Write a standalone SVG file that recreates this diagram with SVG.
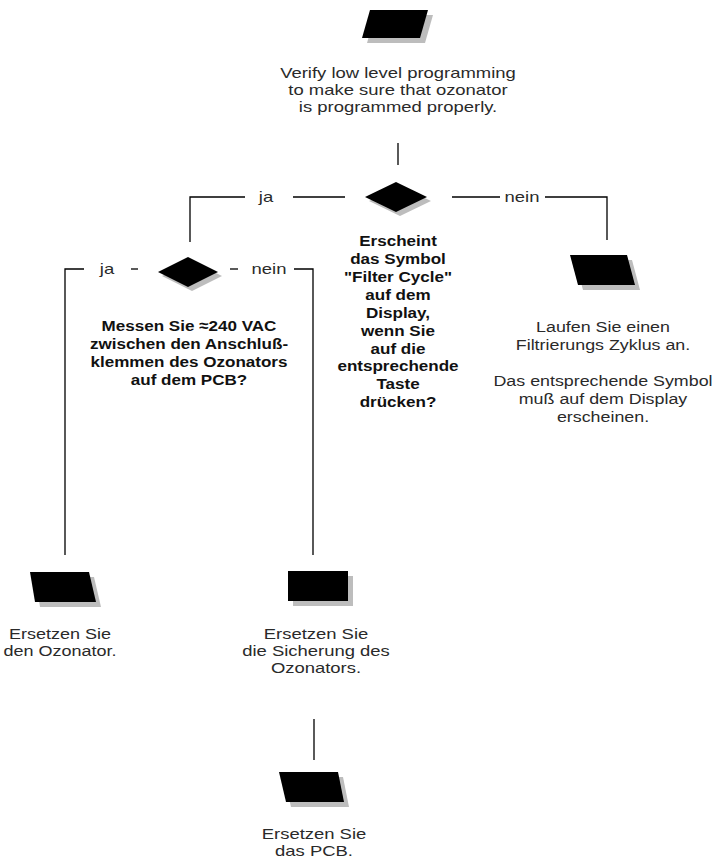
<svg xmlns="http://www.w3.org/2000/svg" width="725" height="865" viewBox="0 0 725 865">
<style>
.t{font-family:"Liberation Sans",Arial,sans-serif;font-size:15px;fill:#2a2a2a;text-anchor:middle}
.q{font-family:"Liberation Sans",Arial,sans-serif;font-size:15.5px;font-weight:bold;fill:#111;text-anchor:middle}
.c{fill:none;stroke:#000;stroke-width:1.3}
.sh{fill:#bdbdbd}
.fg{fill:#000}
</style>
<rect width="725" height="865" fill="#fff"/>
<g id="connectors">
<path class="c" d="M398 143V165"/>
<path class="c" d="M345 197H293"/>
<path class="c" d="M245 197H190V242"/>
<path class="c" d="M452 197H500"/>
<path class="c" d="M545 197H607V240"/>
<path class="c" d="M138 269H131"/>
<path class="c" d="M84 269H65V555"/>
<path class="c" d="M230 269H238"/>
<path class="c" d="M294 269H313V555"/>
<path class="c" d="M314 719V760"/>
<text class="t" transform="translate(266,0) scale(1.23,1)" x="0" y="202">ja</text>
<text class="t" transform="translate(522,0) scale(1.23,1)" x="0" y="202">nein</text>
<text class="t" transform="translate(107,0) scale(1.23,1)" x="0" y="274">ja</text>
<text class="t" transform="translate(269,0) scale(1.23,1)" x="0" y="274">nein</text>
</g>
<g id="start">
<polygon class="sh" points="375,15 433,15 425,43 367,43"/>
<polygon class="fg" points="370,10 428,10 420,38 362,38"/>
<g transform="translate(398,0) scale(1.23,1)">
<text class="t" x="0" y="78">Verify low level programming</text>
<text class="t" x="0" y="95">to make sure that ozonator</text>
<text class="t" x="0" y="112">is programmed properly.</text>
</g>
</g>
<g id="decision1">
<polygon class="sh" points="400,186 431,201 400,216 369,201"/>
<polygon class="fg" points="396,182 427,197 396,212 365,197"/>
<g transform="translate(398,0) scale(1.1,1)">
<text class="q" x="0" y="246">Erscheint</text>
<text class="q" x="0" y="264">das Symbol</text>
<text class="q" x="0" y="282">"Filter Cycle"</text>
<text class="q" x="0" y="300">auf dem</text>
<text class="q" x="0" y="318">Display,</text>
<text class="q" x="0" y="336">wenn Sie</text>
<text class="q" x="0" y="354">auf die</text>
<text class="q" x="0" y="371">entsprechende</text>
<text class="q" x="0" y="389">Taste</text>
<text class="q" x="0" y="407">drücken?</text>
</g>
</g>
<g id="filter">
<polygon class="sh" points="575,260 632,260 640,290 583,290"/>
<polygon class="fg" points="570,255 627,255 635,285 578,285"/>
<g transform="translate(603,0) scale(1.19,1)">
<text class="t" x="0" y="332">Laufen Sie einen</text>
<text class="t" x="0" y="350">Filtrierungs Zyklus an.</text>
<text class="t" x="0" y="386">Das entsprechende Symbol</text>
<text class="t" x="0" y="404">muß auf dem Display</text>
<text class="t" x="0" y="422">erscheinen.</text>
</g>
</g>
<g id="decision2">
<polygon class="sh" points="192,261 222,276 192,291 162,276"/>
<polygon class="fg" points="188,257 218,272 188,287 158,272"/>
<g transform="translate(189,0) scale(1.1,1)">
<text class="q" x="0" y="331">Messen Sie ≈240 VAC</text>
<text class="q" x="0" y="349">zwischen den Anschluß-</text>
<text class="q" x="0" y="367">klemmen des Ozonators</text>
<text class="q" x="0" y="385">auf dem PCB?</text>
</g>
</g>
<g id="ozonator">
<polygon class="sh" points="35,577 94,577 101,607 40,607"/>
<polygon class="fg" points="30,572 89,572 96,602 35,602"/>
<g transform="translate(60,0) scale(1.2,1)">
<text class="t" x="0" y="639">Ersetzen Sie</text>
<text class="t" x="0" y="656">den Ozonator.</text>
</g>
</g>
<g id="fuse">
<rect class="sh" x="293" y="576" width="60" height="30"/>
<rect class="fg" x="288" y="571" width="60" height="30"/>
<g transform="translate(316,0) scale(1.23,1)">
<text class="t" x="0" y="639">Ersetzen Sie</text>
<text class="t" x="0" y="656">die Sicherung des</text>
<text class="t" x="0" y="673">Ozonators.</text>
</g>
</g>
<g id="pcb">
<polygon class="sh" points="284,777 343,777 349,807 291,807"/>
<polygon class="fg" points="279,772 338,772 344,802 286,802"/>
<g transform="translate(314,0) scale(1.23,1)">
<text class="t" x="0" y="839">Ersetzen Sie</text>
<text class="t" x="0" y="856">das PCB.</text>
</g>
</g>
</svg>
